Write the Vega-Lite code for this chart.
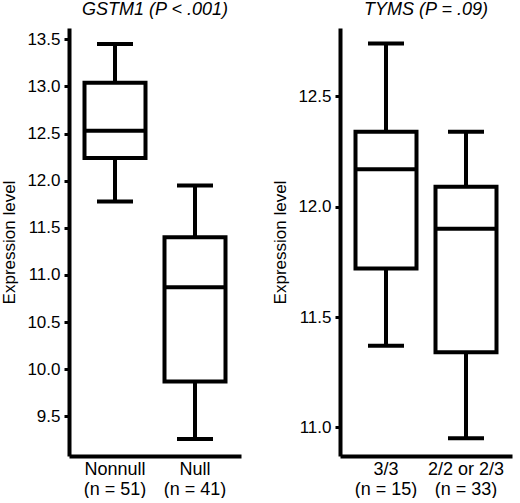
{
  "$schema": "https://vega.github.io/schema/vega-lite/v6.json",
  "padding": {"left": 0, "top": 1, "right": 2, "bottom": 0},
  "data": {
    "values": [
      {"gene": "GSTM1", "group": "Nonnull|(n = 51)", "lo": 11.78, "q1": 12.24, "median": 12.53, "q3": 13.04, "hi": 13.45},
      {"gene": "GSTM1", "group": "Null|(n = 41)", "lo": 9.26, "q1": 9.87, "median": 10.87, "q3": 11.40, "hi": 11.95},
      {"gene": "TYMS", "group": "3/3|(n = 15)", "lo": 11.37, "q1": 11.72, "median": 12.17, "q3": 12.34, "hi": 12.74},
      {"gene": "TYMS", "group": "2/2 or 2/3|(n = 33)", "lo": 10.95, "q1": 11.34, "median": 11.90, "q3": 12.09, "hi": 12.34}
    ]
  },
  "config": {
    "view": {"stroke": null},
    "font": "Liberation Sans",
    "title": {"fontSize": 18, "fontStyle": "italic", "fontWeight": "normal", "color": "black", "offset": 9, "font": "Liberation Sans"},
    "axis": {
      "domainColor": "black",
      "domainWidth": 4,
      "tickColor": "black",
      "tickWidth": 3,
      "tickSize": 5,
      "grid": false,
      "labelColor": "black",
      "labelFontSize": 17,
      "labelFont": "Liberation Sans",
      "titleColor": "black",
      "titleFontSize": 17,
      "titleFontWeight": "normal",
      "titleFont": "Liberation Sans"
    }
  },
  "spacing": 30,
  "hconcat": [
    {
      "width": 172,
      "height": 428,
      "title": {"text": "GSTM1 (P < .001)"},
      "transform": [{"filter": "datum.gene == 'GSTM1'"}],
      "encoding": {
        "x": {
          "field": "group",
          "type": "nominal",
          "sort": null,
          "scale": {"paddingInner": 0, "paddingOuter": 0.075},
          "axis": {"title": null, "labelAngle": 0, "ticks": false, "labelFontSize": 18, "labelPadding": 4, "labelLineHeight": 20, "labelExpr": "split(datum.label, '|')"}
        }
      },
      "layer": [
        {
          "mark": {"type": "rule", "strokeWidth": 4, "color": "black"},
          "encoding": {
            "y": {"field": "lo", "type": "quantitative", "scale": {"domain": [9.08, 13.62], "nice": false, "zero": false},
              "axis": {"title": "Expression level", "values": [9.5, 10, 10.5, 11, 11.5, 12, 12.5, 13, 13.5], "format": ".1f", "labelPadding": 4, "titlePadding": 8}},
            "y2": {"field": "hi"}
          }
        },
        {
          "mark": {"type": "bar", "size": 61, "fill": "white", "stroke": "black", "strokeWidth": 4},
          "encoding": {"y": {"field": "q1", "type": "quantitative"}, "y2": {"field": "q3"}}
        },
        {
          "mark": {"type": "tick", "size": 61, "thickness": 4, "color": "black", "opacity": 1},
          "encoding": {"y": {"field": "median", "type": "quantitative"}}
        },
        {
          "mark": {"type": "tick", "size": 36, "thickness": 4, "color": "black", "opacity": 1},
          "encoding": {"y": {"field": "lo", "type": "quantitative"}}
        },
        {
          "mark": {"type": "tick", "size": 36, "thickness": 4, "color": "black", "opacity": 1},
          "encoding": {"y": {"field": "hi", "type": "quantitative"}}
        }
      ]
    },
    {
      "width": 172,
      "height": 428,
      "title": {"text": "TYMS (P = .09)"},
      "transform": [{"filter": "datum.gene == 'TYMS'"}],
      "encoding": {
        "x": {
          "field": "group",
          "type": "nominal",
          "sort": null,
          "scale": {"paddingInner": 0, "paddingOuter": 0.075},
          "axis": {"title": null, "labelAngle": 0, "ticks": false, "labelFontSize": 18, "labelPadding": 4, "labelLineHeight": 20, "labelExpr": "split(datum.label, '|')"}
        }
      },
      "layer": [
        {
          "mark": {"type": "rule", "strokeWidth": 4, "color": "black"},
          "encoding": {
            "y": {"field": "lo", "type": "quantitative", "scale": {"domain": [10.87, 12.81], "nice": false, "zero": false},
              "axis": {"title": "Expression level", "values": [11, 11.5, 12, 12.5], "format": ".1f", "labelPadding": 4, "titlePadding": 8}},
            "y2": {"field": "hi"}
          }
        },
        {
          "mark": {"type": "bar", "size": 61, "fill": "white", "stroke": "black", "strokeWidth": 4},
          "encoding": {"y": {"field": "q1", "type": "quantitative"}, "y2": {"field": "q3"}}
        },
        {
          "mark": {"type": "tick", "size": 61, "thickness": 4, "color": "black", "opacity": 1},
          "encoding": {"y": {"field": "median", "type": "quantitative"}}
        },
        {
          "mark": {"type": "tick", "size": 36, "thickness": 4, "color": "black", "opacity": 1},
          "encoding": {"y": {"field": "lo", "type": "quantitative"}}
        },
        {
          "mark": {"type": "tick", "size": 36, "thickness": 4, "color": "black", "opacity": 1},
          "encoding": {"y": {"field": "hi", "type": "quantitative"}}
        }
      ]
    }
  ]
}
